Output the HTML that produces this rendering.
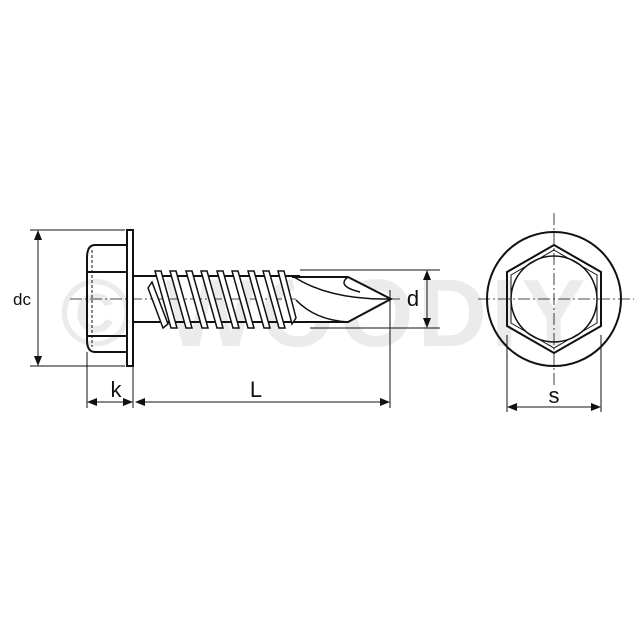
<!DOCTYPE html>
<html><head><meta charset="utf-8"><style>body{margin:0;background:#fff}svg{display:block}</style></head><body>
<svg width="640" height="640" viewBox="0 0 640 640" xmlns="http://www.w3.org/2000/svg">
<text x="325" y="346" font-family="Liberation Sans, sans-serif" font-weight="bold" font-size="96" fill="#ebebeb" text-anchor="middle" letter-spacing="4">© WOODIY</text>
<g stroke="#111" fill="none" stroke-width="1">
<line x1="70" y1="299" x2="400" y2="299" stroke-dasharray="12,3,2,3" stroke-width="0.8"/>
<line x1="30" y1="230" x2="125" y2="230"/><line x1="30" y1="366" x2="125" y2="366"/>
<line x1="38" y1="236" x2="38" y2="360"/>
<rect x="127" y="230" width="6" height="136" fill="#fff" stroke-width="2"/>
<path d="M127 245 H95 Q87 245 87 258 V340 Q87 352 95 352 H127" stroke-width="2"/>
<line x1="87" y1="272" x2="127" y2="272" stroke-width="2"/>
<line x1="87" y1="336" x2="127" y2="336" stroke-width="2"/>
<line x1="92" y1="250" x2="92" y2="347" stroke-dasharray="3,2"/>
<line x1="133" y1="276" x2="300" y2="276" stroke-width="2"/>
<line x1="133" y1="322" x2="300" y2="322" stroke-width="2"/>
<g stroke-width="1.5" fill="#fff">
<path d="M148 288 L152 282 L168 324 L163 328 Z"/>
<path d="M155 271 L161 271 L177 328 L171 328 Z"/>
<path d="M170 271 L176 271 L192 328 L186 328 Z"/>
<path d="M186 271 L192 271 L208 328 L202 328 Z"/>
<path d="M201 271 L207 271 L223 328 L217 328 Z"/>
<path d="M217 271 L223 271 L239 328 L233 328 Z"/>
<path d="M232 271 L238 271 L254 328 L248 328 Z"/>
<path d="M248 271 L254 271 L270 328 L264 328 Z"/>
<path d="M263 271 L269 271 L285 328 L279 328 Z"/>
<path d="M278 271 L284 271 L296 318 L292 324 Z"/>
</g>
<path d="M292 277 L348 277 L391 299 L348 322 L300 322" stroke-width="2" fill="#fff"/>
<path d="M294 277 Q330 300 391 299" stroke-width="1.5"/>
<path d="M348 277 Q336 286 360 292" stroke-width="1.5"/>
<path d="M296 300 Q315 320 348 322" stroke-width="1.5"/>
<line x1="300" y1="270" x2="440" y2="270"/><line x1="310" y1="328" x2="440" y2="328"/>
<line x1="427" y1="276" x2="427" y2="322"/>
<line x1="390" y1="290" x2="390" y2="408"/>
<line x1="87" y1="352" x2="87" y2="408"/><line x1="133" y1="366" x2="133" y2="408"/>
<line x1="93" y1="402" x2="127" y2="402"/>
<line x1="139" y1="402" x2="384" y2="402"/>
</g>
<g fill="#111">
<path d="M38 230 L34 240 L42 240Z"/><path d="M38 366 L34 356 L42 356Z"/>
<path d="M427 270 L423 280 L431 280Z"/><path d="M427 328 L423 318 L431 318Z"/>
<path d="M87 402 L97 398 L97 406Z"/><path d="M133 402 L123 398 L123 406Z"/>
<path d="M135 402 L145 398 L145 406Z"/><path d="M390 402 L380 398 L380 406Z"/>
<path d="M507 407 L517 403 L517 411Z"/><path d="M601 407 L591 403 L591 411Z"/>
</g>
<g stroke="#111" fill="none">
<line x1="478" y1="299" x2="634" y2="299" stroke-dasharray="12,3,2,3" stroke-width="0.8"/>
<line x1="554" y1="213" x2="554" y2="385" stroke-dasharray="12,3,2,3" stroke-width="0.8"/>
<circle cx="554" cy="299" r="67" stroke-width="2"/>
<polygon points="554,245 601,272 601,326 554,353 507,326 507,272" stroke-width="2"/>
<polygon points="554,250 597,275 597,323 554,348 511,323 511,275" stroke-width="1"/>
<circle cx="554" cy="299" r="43" stroke-width="1.5"/>
<line x1="507" y1="335" x2="507" y2="412"/><line x1="601" y1="335" x2="601" y2="412"/>
<line x1="513" y1="407" x2="595" y2="407"/>
</g>
<g font-family="Liberation Sans, sans-serif" fill="#111" text-anchor="middle">
<text x="22" y="305" font-size="17">dc</text>
<text x="116" y="397" font-size="22">k</text>
<text x="256" y="397" font-size="22">L</text>
<text x="413" y="306" font-size="22">d</text>
<text x="554" y="403" font-size="22">s</text>
</g>
</svg>
</body></html>
